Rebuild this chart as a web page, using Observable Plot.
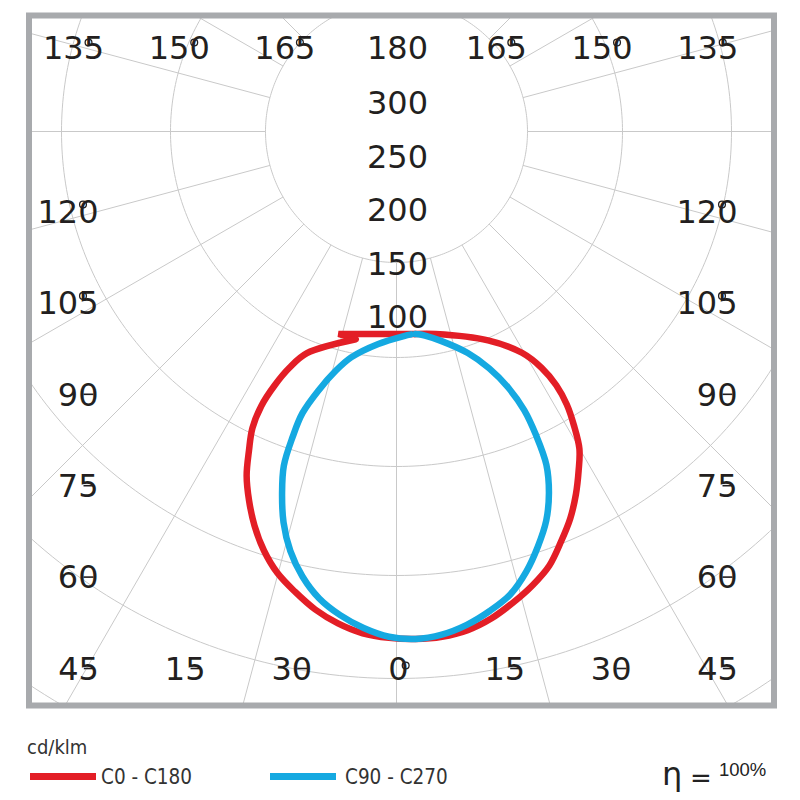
<!DOCTYPE html>
<html>
<head>
<meta charset="utf-8">
<script src="https://cdn.jsdelivr.net/npm/d3@7"></script>
<script src="https://cdn.jsdelivr.net/npm/@observablehq/plot@0.6"></script>
<style>
  html, body { margin: 0; padding: 0; background: #fff; }
  body { width: 800px; height: 800px; overflow: hidden; }
  #chart svg { display: block; }
  #legend { position: relative; width: 800px; height: 80px; color: #333;
            font-family: 'Liberation Sans Narrow', 'DejaVu Sans Condensed', 'Liberation Sans', sans-serif; }
  #legend span { position: absolute; white-space: nowrap; line-height: 1; }
  .sw { height: 7px; width: 66px; }
</style>
</head>
<body>
<div id="chart"></div>
<div id="legend"></div>
<script>
// ---------------- data ----------------
// gamma angle from nadir (degrees)
const gamma = [0, 5, 10, 15, 20, 25, 30, 35, 40, 45, 50, 55, 60, 65, 70, 75, 80, 85, 90];
// C0 - C180 plane, intensities in cd/klm (left half, right half)
const c0c180Left  = [285, 285, 284, 280, 274, 266, 258, 247, 234, 220, 206, 190, 176, 159, 140, 122, 103, 56, 72];
const c0c180Right = [285, 284, 281, 275, 267, 259, 250, 237, 225, 212, 199, 187, 171, 156, 140, 122, 101, 68, 19];
// C90 - C270 plane
const c90c270Left  = [285, 284, 279, 272, 263, 250, 234, 215, 194, 174, 150, 129, 104, 83, 64, 36, 11, 4, 0];
const c90c270Right = [285, 282, 276, 268, 259, 245, 229, 213, 194, 173, 147, 124, 100, 76, 52, 24, 9, 3, 0];

// tick labels
const topAngleLabels    = ["135°", "150°", "165°", "180", "165°", "150°", "135°"];
const sideAngleLabels   = ["120°", "105°", "90°", "75°", "60°"];
const bottomAngleLabels = ["45°", "15°", "30°", "0°", "15°", "30°", "45°"];
const intensityLabels   = [300, 250, 200, 150, 100];
const gridAngles = [0, 15, 30, 45, 60, 75, 90, 105, 120, 135, 150, 165, 180, 195, 210, 225, 240, 255, 270, 285, 300, 315, 330, 345];
const gridRings  = [1, 2, 3, 4, 5, 6];

const seriesNames  = ["C0 - C180", "C90 - C270"];
const efficiency = "100%";
const unitLabel = "cd/klm";

// ---------------- layout ----------------
const W = 800, H = 720;
const FRAME = {left: 28.5, right: 773.5, top: 15, bottom: 705};
const CURVE_ORIGIN = {x: 415, y: 333.5};
const K = 1.07;                       // px per cd/klm
const GRID_CENTER = {x: 396, y: 131};
const RING_RADIUS = [0, 131, 226, 335, 444, 547, 664];
const LABEL_BASE_Y = 424.5;
const COLORS = {red: "#e31e26", blue: "#15a9e1", grid: "#c9c9c9", frame: "#a8aaad", text: "#231f20"};
const FONT = "DejaVu Sans";
const FS = 32;
const DIGIT_W = 0.636 * FS;

const rad = d => d * Math.PI / 180;

function polar(origin, r, angleDeg, side) {
  return {x: origin.x + side * r * Math.sin(rad(angleDeg)), y: origin.y + r * Math.cos(rad(angleDeg))};
}

function buildSeries(left, right, name) {
  const o = {x: CURVE_ORIGIN.x, y: CURVE_ORIGIN.y};
  const L = gamma.map((g, i) => ({...polar(CURVE_ORIGIN, left[i] * K, g, -1), name}));
  const R = gamma.map((g, i) => ({...polar(CURVE_ORIGIN, right[i] * K, g, 1), name}));
  const n = gamma.length - 1;
  const tail = [{...o, name}, L[n], L[n - 1]];
  const body = [];
  for (let i = n - 1; i >= 0; i--) body.push(L[i]);
  for (let i = 1; i <= n; i++) body.push(R[i]);
  const last = body[body.length - 1];
  if (Math.hypot(last.x - o.x, last.y - o.y) > 0.5) body.push({...o, name});
  return {tail, body};
}

const red = buildSeries(c0c180Left, c0c180Right, seriesNames[0]);
const blue = buildSeries(c90c270Left, c90c270Right, seriesNames[1]);

// grid rings
const ringPts = [];
gridRings.forEach(k => {
  for (let a = 0; a <= 360; a += 1) {
    ringPts.push({...polar(GRID_CENTER, RING_RADIUS[k], a, 1), ring: k});
  }
});
// spokes
const spokes = gridAngles.map(a => {
  const p1 = polar(GRID_CENTER, RING_RADIUS[1], a, 1);
  const p2 = polar(GRID_CENTER, 1100, a, 1);
  return {x1: p1.x, y1: p1.y, x2: p2.x, y2: p2.y};
});

// label placement
const topY = 48.5, topX0 = 73, topStep = 105.7;
const sideY0 = 212, sideStep = 91.4;
const bottomY = 669, bottomX0 = 78, bottomX1 = 717;
const leftRight = 98, rightRight = 737;
const midX = GRID_CENTER.x + 2;

const digitsOf = t => t.replace("°", "");
const hasDeg = t => t.endsWith("°");

// all angle labels, with the right edge of their digits
const angleText = [];
topAngleLabels.forEach((t, i) => {
  const x = i === 3 ? midX - 1 : topX0 + i * topStep;
  angleText.push({t, s: digitsOf(t), x, y: topY, a: "middle", right: x + digitsOf(t).length * DIGIT_W / 2, kind: "top"});
});
sideAngleLabels.forEach((t, i) => {
  const y = sideY0 + i * sideStep;
  angleText.push({t, s: digitsOf(t), x: leftRight, y, a: "end", right: leftRight, kind: "side"});
  angleText.push({t, s: digitsOf(t), x: rightRight, y, a: "end", right: rightRight, kind: "side"});
});
bottomAngleLabels.forEach((t, i) => {
  const x = i < 3 ? bottomX0 + i * (midX - bottomX0) / 3 : midX + (i - 3) * (bottomX1 - midX) / 3;
  angleText.push({t, s: digitsOf(t), x, y: bottomY, a: "middle", right: x + digitsOf(t).length * DIGIT_W / 2, kind: "bottom"});
});

// degree marks overprinted on the last digit (as drawn in the source)
const degRings = [], degBars = [];
angleText.filter(d => hasDeg(d.t)).forEach(d => {
  if (d.s === "0") degRings.push({x: d.right - 3, y: d.y - 4});
  else if (d.s.length === 3) degRings.push({x: d.right - 15.5, y: d.y - (d.kind === "top" ? 6.5 : 8)});
  else degBars.push({x1: d.right - 15, x2: d.right - 5, y: d.y - 1});
});

const intensityText = intensityLabels.map(v => ({s: String(v), x: midX - 1, y: LABEL_BASE_Y - K * v}));

const textOpts = {x: "x", y: "y", text: "s", fontSize: FS, fontFamily: FONT, fill: COLORS.text, lineAnchor: "middle"};

const chart = Plot.plot({
  width: W, height: H,
  marginLeft: FRAME.left, marginRight: W - FRAME.right, marginTop: FRAME.top, marginBottom: H - FRAME.bottom,
  x: {domain: [FRAME.left, FRAME.right], axis: null},
  y: {domain: [FRAME.top, FRAME.bottom], reverse: true, axis: null},
  style: {background: "#fff"},
  marks: [
    Plot.line(ringPts, {x: "x", y: "y", z: "ring", stroke: COLORS.grid, strokeWidth: 1, clip: true}),
    Plot.link(spokes, {x1: "x1", y1: "y1", x2: "x2", y2: "y2", stroke: COLORS.grid, strokeWidth: 1, clip: true}),
    Plot.text(angleText.filter(d => d.a === "middle"), {...textOpts, textAnchor: "middle"}),
    Plot.text(angleText.filter(d => d.a === "end"), {...textOpts, textAnchor: "end"}),
    Plot.dot(degRings, {x: "x", y: "y", r: 3.4, stroke: COLORS.text, strokeWidth: 1.3, fill: "none"}),
    Plot.link(degBars, {x1: "x1", x2: "x2", y1: "y", y2: "y", stroke: COLORS.text, strokeWidth: 1.6}),
    Plot.text(intensityText, {...textOpts, textAnchor: "middle"}),
    Plot.line(red.tail, {x: "x", y: "y", stroke: COLORS.red, strokeWidth: 6.5, curve: "linear", strokeLinejoin: "miter", strokeLinecap: "butt"}),
    Plot.line(red.body, {x: "x", y: "y", stroke: COLORS.red, strokeWidth: 6.5, curve: "catmull-rom", strokeLinejoin: "round"}),
    Plot.line(blue.body, {x: "x", y: "y", stroke: COLORS.blue, strokeWidth: 6.5, curve: "catmull-rom", strokeLinejoin: "round"}),
    Plot.frame({stroke: COLORS.frame, strokeWidth: 6})
  ]
});
document.getElementById("chart").appendChild(chart);

// legend
const lg = document.getElementById("legend");
lg.innerHTML = `
  <span style="left:27px; top:17px; font-size:20px;">${unitLabel}</span>
  <span class="sw" style="left:30px; top:52.5px; background:${COLORS.red};"></span>
  <span style="left:101px; top:47px; font-size:20.5px;">${seriesNames[0]}</span>
  <span class="sw" style="left:270px; top:52.5px; background:${COLORS.blue};"></span>
  <span style="left:345px; top:47px; font-size:20.5px;">${seriesNames[1]}</span>
  <span style="left:662px; top:38px; font-size:32px; font-family:'DejaVu Sans',sans-serif; color:#222;">η</span>
  <span style="left:690px; top:45px; font-size:26px; font-family:'DejaVu Sans',sans-serif; color:#222;">=</span>
  <span style="left:719px; top:41px; font-size:18.5px; font-family:'Liberation Sans',sans-serif; color:#222;">${efficiency}</span>
`;
</script>
</body>
</html>
